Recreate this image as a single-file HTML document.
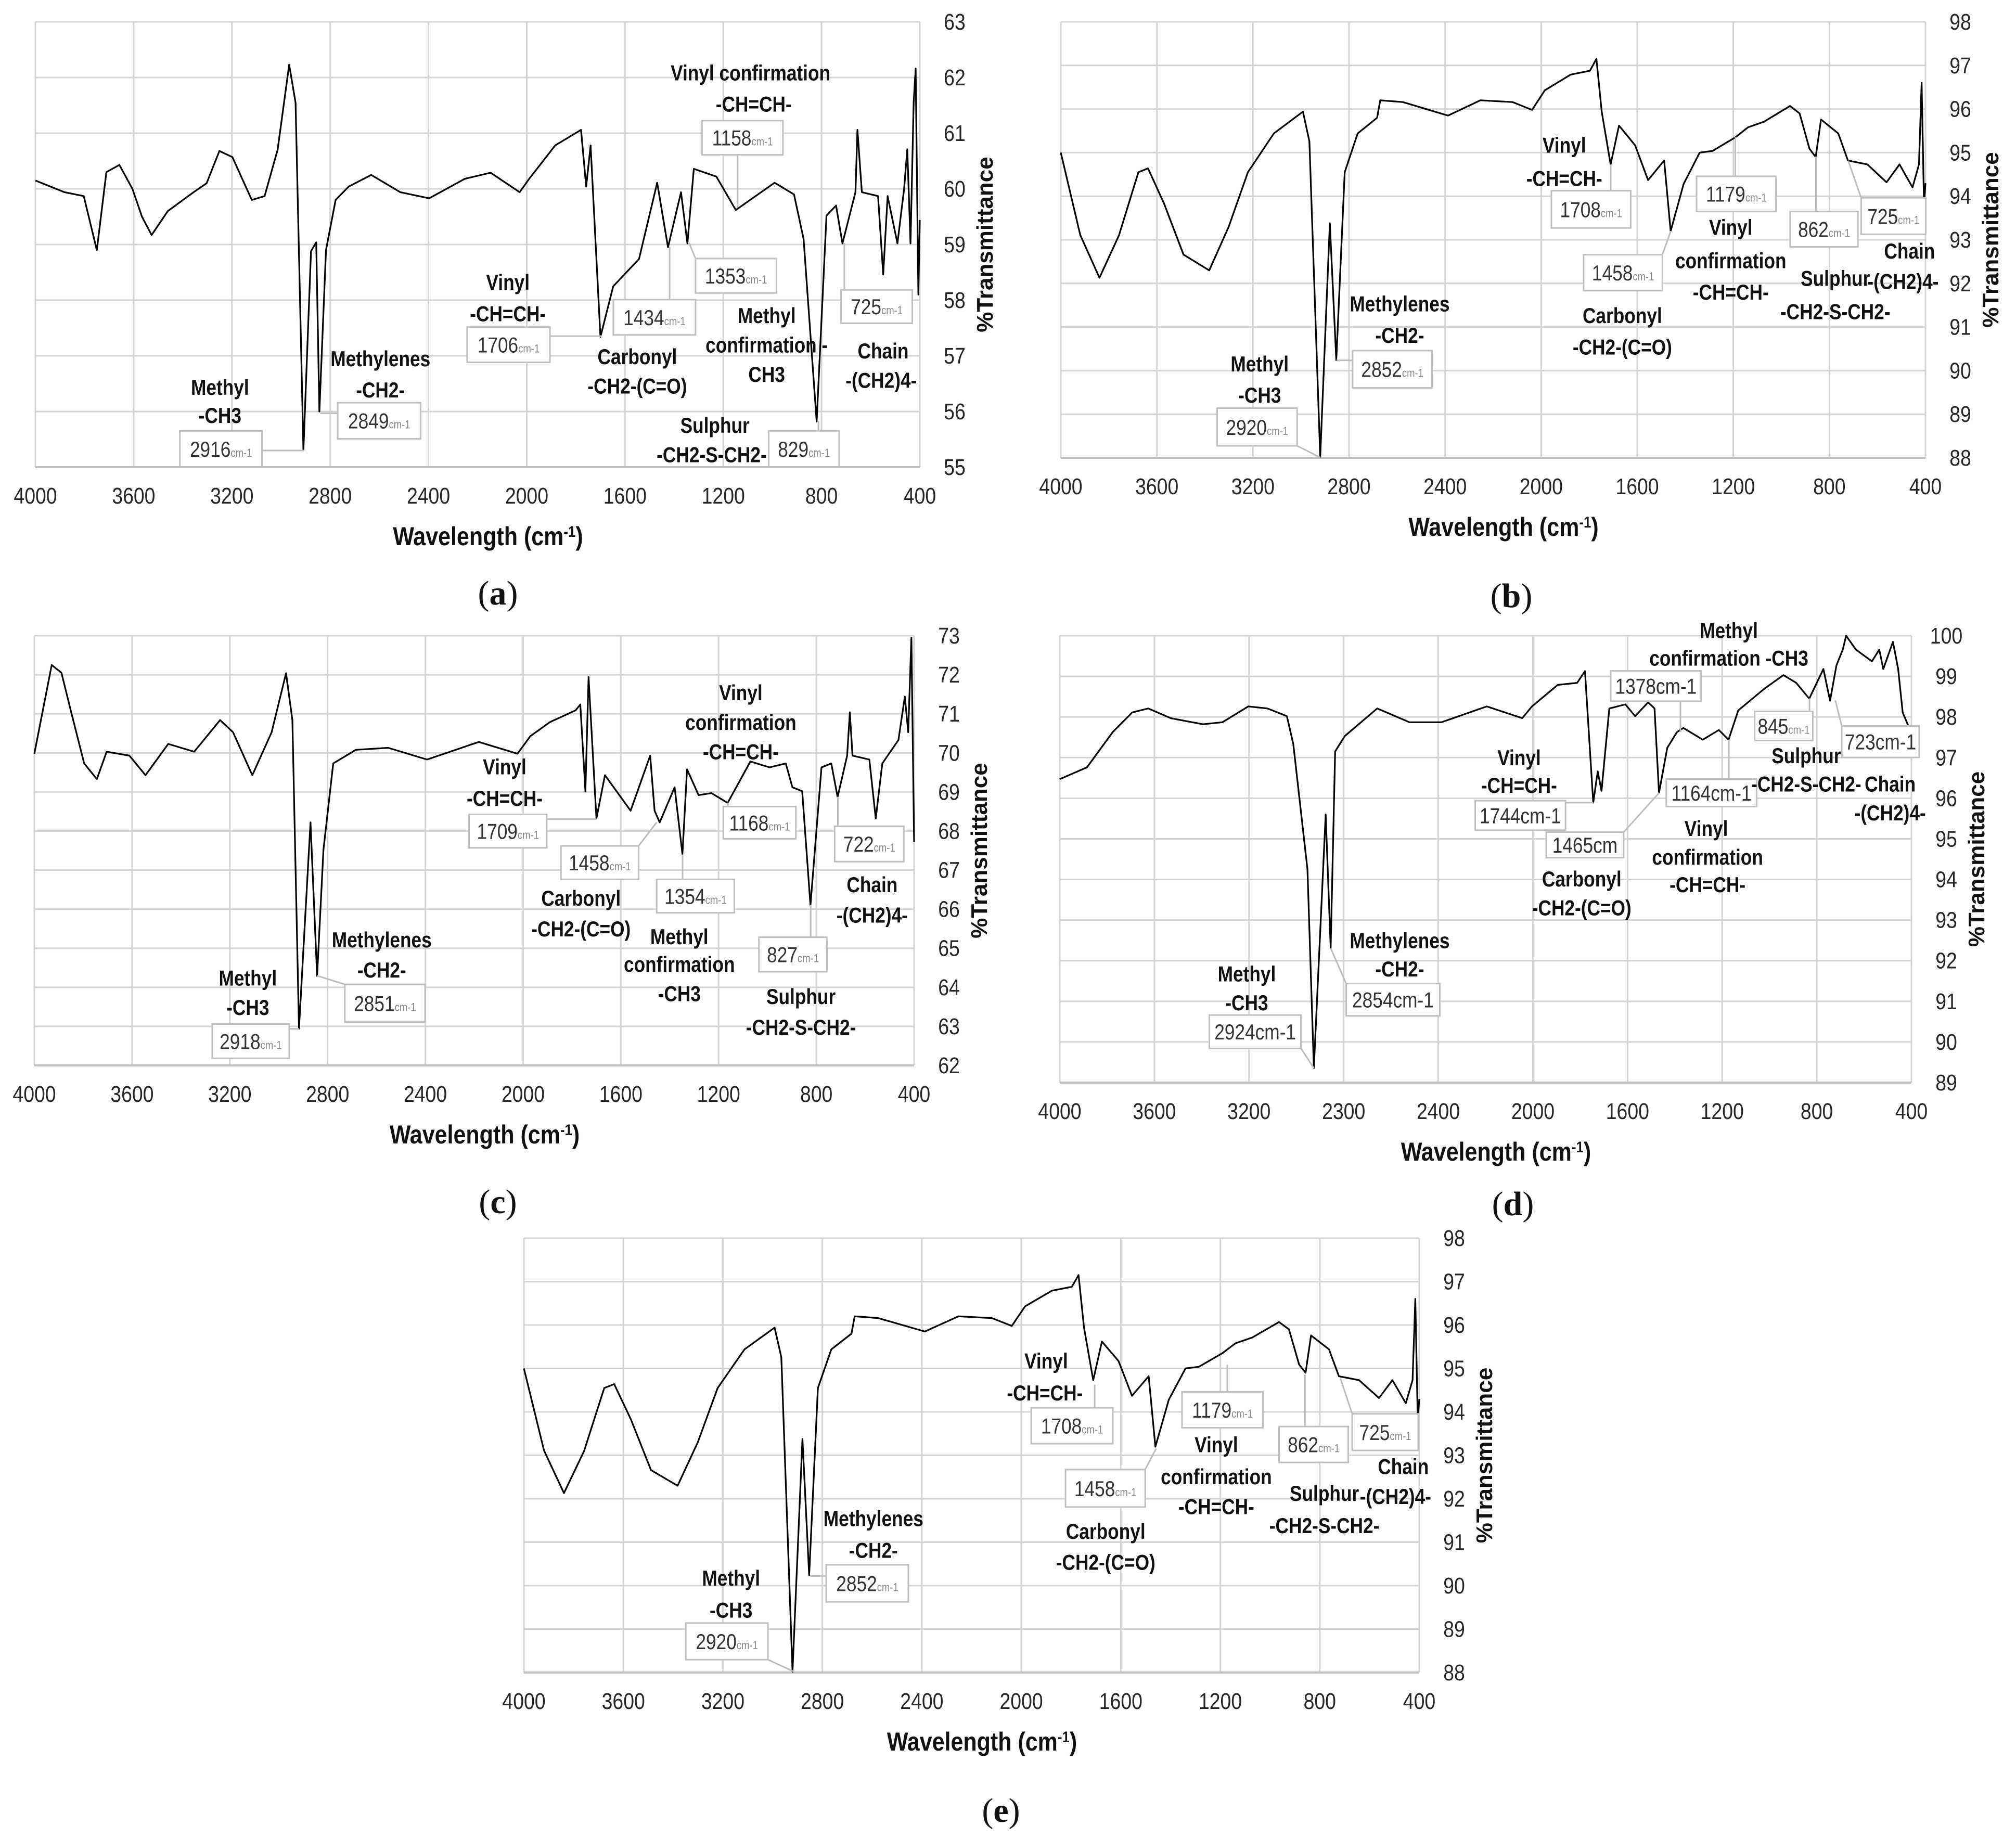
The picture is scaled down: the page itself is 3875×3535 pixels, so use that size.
<!DOCTYPE html>
<html><head><meta charset="utf-8"><title>FTIR spectra</title>
<style>
html,body{margin:0;padding:0;background:#fff;}
svg{display:block;}
.tick{font-family:"Liberation Sans Narrow","Liberation Sans",sans-serif;font-size:44px;fill:#262626;}
.lab{font-family:"Liberation Sans Narrow","Liberation Sans",sans-serif;font-size:42px;font-weight:bold;fill:#111;}
.num{font-family:"Liberation Sans Narrow","Liberation Sans",sans-serif;font-size:42px;fill:#333;}
.sub{font-size:22px;fill:#888;}
.atitle{font-family:"Liberation Sans Narrow","Liberation Sans",sans-serif;font-size:50px;font-weight:bold;fill:#111;}
.ytitle{font-family:"Liberation Sans",sans-serif;font-size:44px;font-weight:bold;fill:#111;}
.plabel{font-family:"Liberation Serif",serif;font-size:66px;fill:#111;}
</style></head>
<body>
<svg id="fig" xmlns="http://www.w3.org/2000/svg" width="3875" height="3535" viewBox="0 0 3875 3535"></svg>
<script>
// ---- data (wavenumber cm-1, %Transmittance) ----
const aWn=[4000,3882,3803,3750,3711,3658,3605,3566,3527,3461,3356,3303,3251,3198,3119,3067,3014,2967,2941,2909,2878,2857,2844,2817,2778,2725,2633,2515,2397,2252,2147,2029,1990,1884,1779,1758,1740,1700,1648,1543,1469,1425,1372,1346,1320,1228,1149,991,912,873,820,780,741,715,662,654,636,570,549,531,491,464,451,438,425,417,406,400];
const aT=[60.15,59.94,59.87,58.9,60.3,60.43,60.0,59.5,59.17,59.6,59.94,60.1,60.68,60.57,59.8,59.87,60.7,62.23,61.55,55.3,58.88,59.04,56.0,58.9,59.8,60.04,60.25,59.94,59.83,60.18,60.29,59.94,60.18,60.78,61.06,60.04,60.78,57.34,58.25,58.74,60.11,58.95,59.94,59.02,60.36,60.22,59.62,60.11,59.9,59.1,55.82,59.52,59.7,59.02,59.94,61.06,59.94,59.87,58.46,59.87,59.02,60.0,60.71,59.02,61.56,62.16,58.1,59.44];
const bWn=[4000,3919,3839,3758,3677,3637,3570,3489,3382,3301,3221,3113,2992,2965,2920,2880,2853,2818,2764,2683,2670,2576,2388,2253,2119,2038,1985,1877,1797,1770,1748,1711,1676,1609,1555,1488,1461,1407,1340,1286,1192,1139,1072,964,924,883,857,835,763,723,642,562,508,454,427,416,406,400];
const bT=[95.0,93.11,92.13,93.1,94.55,94.64,93.83,92.66,92.3,93.3,94.55,95.44,95.94,95.26,88.02,93.38,90.24,94.55,95.44,95.8,96.2,96.16,95.85,96.2,96.16,95.98,96.43,96.79,96.88,97.15,95.94,94.73,95.62,95.17,94.37,94.82,93.2,94.28,95.0,95.04,95.35,95.58,95.71,96.07,95.9,95.09,94.9,95.76,95.44,94.82,94.73,94.32,94.73,94.2,94.73,96.6,93.8,94.3];
const cWn=[4000,3929,3889,3849,3796,3744,3704,3611,3545,3452,3346,3240,3187,3108,3029,2970,2944,2917,2870,2843,2817,2777,2684,2552,2393,2181,2023,1970,1890,1785,1766,1745,1732,1700,1665,1560,1480,1462,1441,1380,1348,1329,1282,1229,1163,1070,991,925,898,858,824,779,739,713,674,663,652,583,557,530,464,438,424,411,400];
const cT=[69.98,72.25,72.05,71.04,69.73,69.33,70.03,69.93,69.43,70.23,70.03,70.84,70.53,69.43,70.53,72.04,70.84,62.94,68.22,64.29,67.52,69.73,70.08,70.13,69.83,70.28,69.98,70.43,70.79,71.09,71.24,69.02,71.94,68.32,69.43,68.52,69.93,68.52,68.22,69.12,67.41,69.58,68.92,68.97,68.72,69.78,69.63,69.73,69.12,69.02,66.1,69.63,69.73,68.87,69.93,71.04,69.93,69.83,68.32,69.73,70.33,71.44,70.53,72.95,67.72];
const dWn=[4000,3885,3776,3694,3626,3531,3395,3312,3203,3122,3040,3013,2953,2926,2876,2855,2836,2795,2658,2522,2386,2195,2045,2004,1895,1813,1780,1745,1726,1710,1677,1609,1568,1513,1486,1467,1432,1391,1364,1282,1214,1173,1132,1023,941,887,832,772,744,717,690,676,635,567,536,519,478,456,437,400];
const dT=[96.47,96.76,97.63,98.11,98.21,97.97,97.82,97.87,98.26,98.21,98.02,97.34,94.25,89.36,95.6,92.31,97.15,97.53,98.21,97.87,97.87,98.26,97.97,98.26,98.79,98.84,99.13,95.89,96.66,96.18,98.21,98.31,98.02,98.36,98.21,96.13,97.24,97.63,97.73,97.44,97.68,97.44,98.16,98.69,99.03,98.84,98.45,99.18,98.4,99.27,99.66,100.0,99.66,99.37,99.66,99.18,99.85,99.18,98.11,97.6];
const eWn=[4000,3919,3839,3758,3677,3637,3570,3489,3382,3301,3221,3113,2992,2965,2920,2880,2853,2818,2764,2683,2670,2576,2388,2253,2119,2038,1985,1877,1797,1770,1748,1711,1676,1609,1555,1488,1461,1407,1340,1286,1192,1139,1072,964,924,883,857,835,763,723,642,562,508,454,427,416,406,400];
const eT=[95.0,93.11,92.13,93.1,94.55,94.64,93.83,92.66,92.3,93.3,94.55,95.44,95.94,95.26,88.02,93.38,90.24,94.55,95.44,95.8,96.2,96.16,95.85,96.2,96.16,95.98,96.43,96.79,96.88,97.15,95.94,94.73,95.62,95.17,94.37,94.82,93.2,94.28,95.0,95.04,95.35,95.58,95.71,96.07,95.9,95.09,94.9,95.76,95.44,94.82,94.73,94.32,94.73,94.2,94.73,96.6,93.8,94.3];
const xTickValues=[4000,3600,3200,2800,2400,2000,1600,1200,800,400];
const xTickLabels=['4000','3600','3200','2800','2400','2000','1600','1200','800','400'];
const dXTickLabels=['4000','3600','3200','2300','2400','2000','1600','1200','800','400'];

const NS='http://www.w3.org/2000/svg';
const svg=document.getElementById('fig');
function mk(tag,attrs,parent){const e=document.createElementNS(NS,tag);for(const k in attrs)e.setAttribute(k,attrs[k]);(parent||svg).appendChild(e);return e;}
function sq(x,k){return 'translate('+x+' 0) scale('+k+' 1) translate('+(-x)+' 0)';}

const panels=[
 {id:'a',L:68,R:1768,T:42,B:898,ymin:55,ymax:63,wn:aWn,tr:aT,xl:xTickLabels,ox:0,oy:0,fx:1.2436,fy:0.753,lx:957,ly:1140},
 {id:'b',L:2039,R:3701,T:42,B:880,ymin:88,ymax:98,wn:bWn,tr:bT,xl:xTickLabels,ox:1940,oy:0,fx:1.2404,fy:0.753,lx:2905,ly:1145},
 {id:'c',L:66,R:1757,T:1222,B:2048,ymin:62,ymax:73,wn:cWn,tr:cT,xl:xTickLabels,ox:0,oy:1180,fx:1.2436,fy:0.756,lx:957,ly:2310},
 {id:'d',L:2037,R:3674,T:1222,B:2081,ymin:89,ymax:100,wn:dWn,tr:dT,xl:dXTickLabels,ox:1940,oy:1180,fx:1.2404,fy:0.756,lx:2908,ly:2314},
 {id:'e',L:1007,R:2728,T:2380,B:3215,ymin:88,ymax:98,wn:eWn,tr:eT,xl:xTickLabels,ox:960,oy:2340,fx:1.2436,fy:0.766,lx:1924,ly:3480}
];

const ann={
a:{labels:[['Vinyl confirmation',1160,185],['-CH=CH-',1165,265],['Vinyl',785,720],['-CH=CH-',785,800],['Methyl',1185,805],['confirmation -',1185,880],['CH3',1185,955],['Carbonyl',985,910],['-CH2-(C=O)',985,985],['Chain',1365,895],['-(CH2)4-',1362,970],['Methylenes',588,915],['-CH2-',588,995],['Methyl',340,988],['-CH3',340,1060],['Sulphur',1105,1085],['-CH2-S-CH2-',1100,1160]],
 boxes:[['1158','cm-1',1085,308,1210,395,1140,530],['1706','cm-1',722,835,850,925,930,858],['1434','cm-1',948,765,1075,855,1035,630],['1353','cm-1',1075,660,1200,748,1065,620],['725','cm-1',1300,740,1410,825,1305,620],['2849','cm-1',522,1028,650,1120,495,1055],['2916','cm-1',278,1100,405,1192,470,1150],['829','cm-1',1188,1100,1297,1192,1265,1075]]},
b:{labels:[['Vinyl',860,370],['-CH=CH-',860,455],['Carbonyl',950,805],['-CH2-(C=O)',950,885],['Vinyl',1118,580],['confirmation',1118,665],['-CH=CH-',1118,745],['Chain',1395,640],['Sulphur',1280,710],['-(CH2)4-',1385,718],['-CH2-S-CH2-',1280,795],['Methylenes',605,775],['-CH2-',605,855],['Methyl',388,928],['-CH3',388,1008]],
 boxes:[['1708','cm-1',840,487,963,582,932,420],['1458','cm-1',890,650,1012,742,1025,590],['1179','cm-1',1065,450,1188,540,1125,350],['862','cm-1',1210,540,1315,630,1250,400],['725','cm-1',1320,505,1420,598,1300,410],['2852','cm-1',532,895,655,990,507,920],['2920','cm-1',322,1042,446,1138,482,1168]]},
c:{labels:[['Vinyl',780,388],['-CH=CH-',780,468],['Carbonyl',898,722],['-CH2-(C=O)',898,800],['Methyl',1050,820],['confirmation',1050,890],['-CH3',1050,965],['Vinyl',1145,200],['confirmation',1145,275],['-CH=CH-',1145,350],['Sulphur',1238,972],['-CH2-S-CH2-',1238,1050],['Chain',1348,688],['-(CH2)4-',1348,765],['Methylenes',590,828],['-CH2-',590,905],['Methyl',383,925],['-CH3',383,1000]],
 boxes:[['1709','cm-1',725,510,845,595,922,522],['1458','cm-1',867,590,987,675,1015,530],['1354','cm-1',1015,675,1135,760,1055,612],['1168','cm-1',1118,490,1230,572,1125,480],['827','cm-1',1173,822,1278,910,1253,740],['722','cm-1',1290,540,1397,630,1295,465],['2851','cm-1',533,942,657,1038,490,920],['2918','cm-1',328,1043,447,1130,462,1055]]},
d:{labels:[['Methyl',1115,42],['confirmation -CH3',1115,112],['Vinyl',790,365],['-CH=CH-',790,435],['Carbonyl',887,673],['-CH2-(C=O)',887,747],['Vinyl',1080,545],['confirmation',1082,618],['-CH=CH-',1082,688],['Sulphur',1235,360],['-CH2-S-CH2-',1235,432],['Chain',1365,432],['-(CH2)4-',1365,505],['Methylenes',605,830],['-CH2-',605,902],['Methyl',368,915],['-CH3',368,988]],
 boxes:[['1378cm-1','',932,145,1072,222,1040,300],['1744cm-1','',722,475,862,550,905,480],['1465cm','',832,555,952,620,1007,455],['1164cm-1','',1018,420,1158,490,1115,320],['845','cm-1',1155,248,1245,322,1240,215],['723cm-1','',1290,285,1410,365,1280,220],['2854cm-1','',522,940,667,1022,498,850],['2924cm-1','',310,1020,452,1105,472,1155]]},
e:{labels:[['Vinyl',845,360],['-CH=CH-',843,440],['Carbonyl',937,787],['-CH2-(C=O)',937,865],['Vinyl',1108,570],['confirmation',1108,650],['-CH=CH-',1108,725],['Chain',1397,625],['Sulphur',1275,692],['-(CH2)4-',1385,700],['-CH2-S-CH2-',1275,773],['Methylenes',578,755],['-CH2-',578,835],['Methyl',358,905],['-CH3',358,985]],
 boxes:[['1708','cm-1',822,478,948,568,920,420],['1458','cm-1',875,633,998,727,1015,580],['1179','cm-1',1055,438,1180,528,1125,370],['862','cm-1',1205,525,1312,615,1245,395],['725','cm-1',1318,493,1420,585,1300,405],['2852','cm-1',505,872,632,965,480,900],['2920','cm-1',288,1018,415,1110,455,1140]]}
};

panels.forEach(p=>{
  const g=mk('g',{});
  
  
  const xs=w=>p.L+(4000-w)/3600*(p.R-p.L);
  const ys=v=>p.B-(v-p.ymin)/(p.ymax-p.ymin)*(p.B-p.T);
  const zx=x=>p.ox+x*p.fx, zy=y=>p.oy+y*p.fy;
  for(let v=p.ymin;v<=p.ymax;v++){
    const l=mk('line',{x1:p.L,x2:p.R,y1:ys(v),y2:ys(v),stroke:'#d4d4d4','stroke-width':3},g);
    
    
    const t=mk('text',{x:p.R+67,y:ys(v)+15,'text-anchor':'middle',class:'tick',transform:sq(p.R+67,0.85)},g);
    
    
    t.textContent=String(v);
  }
  xTickValues.forEach((w,i)=>{
    const l=mk('line',{x1:xs(w),x2:xs(w),y1:p.T,y2:p.B,stroke:'#d4d4d4','stroke-width':3},g);
    
    
    const t=mk('text',{x:xs(w),y:p.B+70,'text-anchor':'middle',class:'tick',transform:sq(xs(w),0.85)},g);
    
    
    t.textContent=p.xl[i];
  });
  const ax=mk('line',{x1:p.L,x2:p.R,y1:p.B,y2:p.B,stroke:'#bfbfbf','stroke-width':4},g);
  
  
  let d='';
  p.wn.forEach((w,i)=>{d+=(i?'L':'M')+xs(w).toFixed(1)+' '+ys(p.tr[i]).toFixed(1)+' ';});
  const path=mk('path',{d:d,fill:'none',stroke:'#000','stroke-width':3.2,'stroke-linejoin':'round'},g);
  
  
  const A=ann[p.id];
  A.boxes.forEach(b=>{
    const x1=zx(b[2]),y1=zy(b[3]),x2=zx(b[4]),y2=zy(b[5]);
    const cx=(x1+x2)/2, cy=(y1+y2)/2;
    const ex=Math.max(x1,Math.min(x2,zx(b[6]))), ey=Math.max(y1,Math.min(y2,zy(b[7])));
    const ln=mk('line',{x1:ex,y1:ey,x2:zx(b[6]),y2:zy(b[7]),stroke:'#bdbdbd','stroke-width':3},g);
    
    
    const r=mk('rect',{x:x1,y:y1,width:x2-x1,height:y2-y1,fill:'#fff',stroke:'#bfbfbf','stroke-width':3},g);
    
    
    const t=mk('text',{x:cx,y:cy+15,'text-anchor':'middle',class:'num',transform:sq(cx,0.84)},g);
    
    
    t.appendChild(document.createTextNode(b[0]));
    if(b[1]){const s=mk('tspan',{class:'sub'},t);s.textContent=b[1];}
  });
  A.labels.forEach(l=>{
    const x=zx(l[1]);
    const t=mk('text',{x:x,y:zy(l[2])+15,'text-anchor':'middle',class:'lab',transform:sq(x,0.84)},g);
    
    
    t.textContent=l[0];
  });
  const tx=(p.L+p.R)/2+20;
  const xt=mk('text',{x:tx,y:p.B+150,'text-anchor':'middle',class:'atitle',transform:sq(tx,0.86)},g);
  
  
  xt.appendChild(document.createTextNode('Wavelength (cm'));
  const sp=mk('tspan',{'baseline-shift':'super','font-size':'30'},xt);sp.textContent='-1';
  xt.appendChild(document.createTextNode(')'));
  const ycx=p.R+140, ycy=(p.T+p.B)/2;
  const yt=mk('text',{x:ycx,y:ycy,'text-anchor':'middle',class:'ytitle',transform:'rotate(-90 '+ycx+' '+ycy+')'},g);
  
  
  yt.textContent='%Transmittance';
  const pl=mk('text',{x:p.lx,y:p.ly+22,'text-anchor':'middle',class:'plabel'},g);
  
  
  pl.appendChild(document.createTextNode('('));
  const bb=mk('tspan',{'font-weight':'bold'},pl);bb.textContent=p.id;
  pl.appendChild(document.createTextNode(')'));
});
</script>
</body></html>
